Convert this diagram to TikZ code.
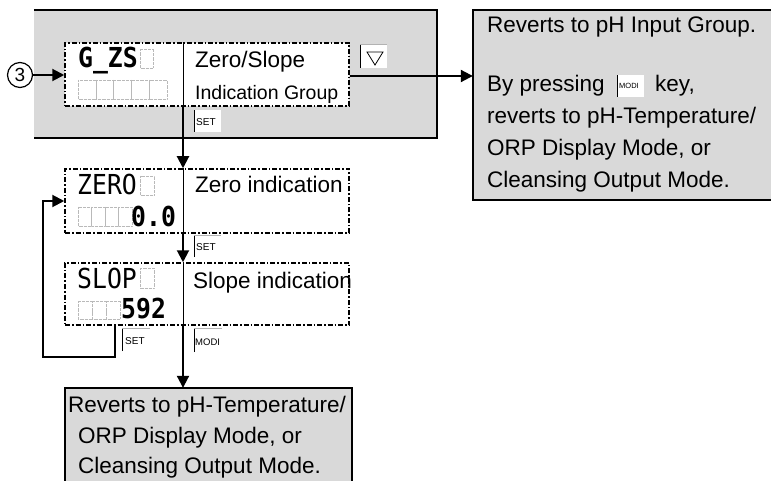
\documentclass[tikz,border=0pt]{standalone}
\usepackage{fontspec}
\setmainfont{Liberation Sans}
\newfontfamily\segfont[FakeStretch=0.9]{DejaVu Sans Mono}
\usetikzlibrary{arrows.meta,calc}
\definecolor{boxgray}{RGB}{217,217,217}
\begin{document}
\begin{tikzpicture}[x=1pt,y=-1pt,
  conn/.style={line width=2pt,-{Triangle[length=12pt,width=12pt]}},
  edge/.style={line width=2pt},
  dashbox/.style={draw, fill=white, line width=1.5pt, inner sep=0pt,
     dash pattern=on 5pt off 2pt on 1.5pt off 2pt},
  grayarea/.style={fill=boxgray, inner sep=0pt},
  txt/.style={font=\fontsize{22.5}{27}\selectfont, inner sep=0pt, anchor=base west},
  smalltxt/.style={font=\fontsize{19.5}{23}\selectfont, inner sep=0pt, anchor=base west},
  segtxt/.style={font=\segfont\fontsize{27.5}{29}\selectfont, inner sep=0pt, anchor=base west},
  segbold/.style={font=\segfont\bfseries\fontsize{27.5}{29}\selectfont, inner sep=0pt, anchor=base west},
  keytxt/.style={font=\fontsize{10}{11}\selectfont, inner sep=0pt, anchor=west},
  keyfill/.style={fill=white},
  keyleft/.style={line width=1pt},
  keytop/.style={line width=0.6pt, draw=gray!60},
  blank/.style={draw=gray!55, line width=0.5pt, dash pattern=on 0.5pt off 0.8pt},
  divider/.style={line width=1pt}
]
\useasboundingbox (0,0) rectangle (771,481);

% gray areas
\node[grayarea, minimum width=403pt, minimum height=128pt] (gbox) at (235.5,74) {};
\draw[edge] (gbox.north west) -- (gbox.north east) -- (gbox.south east) -- (gbox.south west);
\node[grayarea, minimum width=298pt, minimum height=190pt] (rbox) at (622,105) {};
\draw[edge] (rbox.north east) -- (rbox.north west) -- (rbox.south west) -- (rbox.south east);
\node[grayarea, minimum width=287pt, minimum height=100pt] (bbox) at (208.5,438) {};
\draw[edge] (bbox.south west) -- (bbox.north west) -- (bbox.north east) -- (bbox.south east);

% dashed display boxes
\node[dashbox, minimum width=284pt, minimum height=63pt] (gzs) at (207,74.5) {};
\node[dashbox, minimum width=284pt, minimum height=64pt] (zero) at (207,201) {};
\node[dashbox, minimum width=284pt, minimum height=62pt] (slop) at (207,294) {};
\coordinate (dv) at (183,0);
\coordinate (lx) at (115,0);
\draw[divider] (gzs.north -| dv) -- (gzs.south -| dv);
\draw[divider] (zero.north -| dv) -- (zero.south -| dv);
\draw[divider] (slop.north -| dv) -- (slop.south -| dv);

% display contents
\node[segbold] (tgzs) at (78,68) {G\_ZS};
\draw[blank] (140,49) rectangle (153,68);
\foreach \i in {0,...,4} {\draw[blank] (78+\i*17.8,80) rectangle (78+\i*17.8+17.8,99);}
\node[segtxt] (tzero) at (77,195) {ZERO};
\draw[blank] (140,176) rectangle (154,195);
\foreach \i in {0,...,3} {\draw[blank] (78+\i*13.5,207) rectangle (78+\i*13.5+13.5,226);}
\node[segbold] (tzv) at (131,226) {0.0};
\node[segtxt] (tslop) at (77,288) {SLOP};
\draw[blank] (140,268) rectangle (154,288);
\foreach \i in {0,...,2} {\draw[blank] (78+\i*14,301) rectangle (78+\i*14+14,319);}
\node[segbold] (tsv) at (121,318) {592};

\node[txt] (tzs) at (195,68) {Zero/Slope};
\node[smalltxt] (tig) at (195,100) {Indication Group};
\node[txt] (tzi) at (195,193) {Zero indication};
\node[txt] (tsi) at (193,288) {Slope indication};

% down key
\fill[keyfill] (360,44) rectangle (387,68);
\draw[keyleft] (360,68) -- (360,44);
\draw[keytop] (360,44) -- (387,44);
\draw[line width=0.8pt, line join=miter] (367,52) -- (383,52) -- (375,65) -- cycle;

% SET / MODI keys
\fill[keyfill] (194,110) rectangle (221,132);
\draw[keyleft] (194,132) -- (194,110);
\node[keytxt] (kset1) at (196,122) {SET};
\fill[keyfill] (194,235) rectangle (221,257);
\draw[keyleft] (194,257) -- (194,235);
\draw[keytop] (194,235) -- (221,235);
\node[keytxt] (kset2) at (196,247) {SET};
\fill[keyfill] (122,328) rectangle (150,351);
\draw[keyleft] (122,351) -- (122,328);
\draw[keytop] (122,328) -- (150,328);
\node[keytxt] (kset3) at (125,341) {SET};
\fill[keyfill] (194,328) rectangle (222,352);
\draw[keyleft] (194,352) -- (194,328);
\draw[keytop] (194,328) -- (222,328);
\node[keytxt, font=\fontsize{9.5}{10}\selectfont] (kmodi1) at (195,342) {MODI};

% circled 3
\node[circle, draw, line width=1.2pt, minimum size=25pt, inner sep=0pt,
      font=\fontsize{19}{20}\selectfont] (c3) at (20,75) {3};

% connectors
\draw[conn] (c3.east) -- (c3.east -| gzs.west);
\draw[conn] (gzs.east |- 0,76) -- (rbox.west |- 0,76);
\draw[conn] (gzs.south -| dv) -- (zero.north -| dv);
\draw[conn] (zero.south -| dv) -- (slop.north -| dv);
\draw[conn] (slop.south -| dv) -- (bbox.north -| dv);
\draw[conn] (slop.south -| lx) |- (43,357) |- (zero.west);

% right box text
\node[txt] (r1) at (487,33) {Reverts to pH Input Group.};
\node[txt] (r2) at (487,92) {By pressing};
\fill[keyfill] (617,75) rectangle (644,97);
\draw[keyleft] (617,97) -- (617,75);
\node[keytxt, font=\fontsize{7.5}{8}\selectfont] (kmodi2) at (619,86) {MODI};
\node[txt] (r2b) at (655,92) {key,};
\node[txt] (r3) at (487,124) {reverts to pH-Temperature/};
\node[txt] (r4) at (487,156) {ORP Display Mode, or};
\node[txt] (r5) at (487,188) {Cleansing Output Mode.};

% bottom box text
\node[txt] (b1) at (68,412) {Reverts to pH-Temperature/};
\node[txt] (b2) at (78,443) {ORP Display Mode, or};
\node[txt] (b3) at (78,473) {Cleansing Output Mode.};
\end{tikzpicture}
\end{document}
